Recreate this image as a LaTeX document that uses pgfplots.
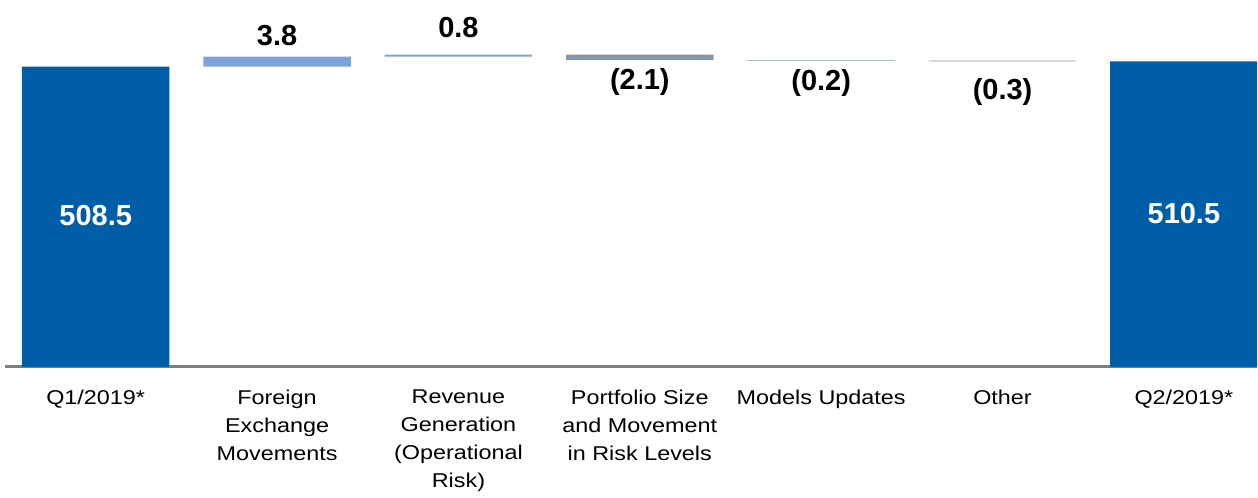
\documentclass[border=0pt]{standalone}
\usepackage{fontspec}
\setmainfont{Liberation Sans}
\newfontfamily\tickfont[FakeStretch=1.17]{Liberation Sans}
\usepackage{pgfplots}
\usepackage{pgfplotstable}
\pgfplotsset{compat=1.18}
\definecolor{qblue}{HTML}{005EA8}
\definecolor{lblue}{HTML}{7EA3D9}
\definecolor{gblue}{HTML}{8597A3}
\definecolor{axgray}{HTML}{7F7F7F}
\tikzset{vl/.style={font=\fontsize{14.5}{16}\selectfont\bfseries}}

\pgfplotstableread{
x base q up down
0 0 508.5 0 0
1 508.5 0 3.8 0
2 512.3 0 0.8 0
3 511.0 0 0 2.1
4 510.8 0 0 0.2
5 510.5 0 0 0.3
6 0 510.5 0 0
}\wf

\begin{document}
\begin{tikzpicture}
\begin{axis}[
  scale only axis, width=626.5pt, height=183.5pt,
  xmin=-0.5, xmax=6.402, ymin=393, ymax=534.15,
  enlargelimits=false,
  ybar stacked, bar width=0.813,
  axis y line=none, axis x line=bottom,
  x axis line style={axgray, line width=1.2pt, -},
  xtick={0,...,6}, ytick=\empty, major tick length=0pt,
  xticklabels={Q1/2019*, {Foreign\\Exchange\\Movements}, {Revenue\\Generation\\(Operational\\Risk)}, {Portfolio Size\\and Movement\\in Risk Levels}, Models Updates, Other, Q2/2019*},
  xticklabel style={align=center, font=\tickfont\fontsize{10}{13.9}\selectfont, yshift=-8.2pt},
]
\addplot[draw=none, fill=none] table[x=x, y=base]{\wf};
\addplot[draw=none, fill=qblue] table[x=x, y=q]{\wf};
\addplot[draw=none, fill=lblue] table[x=x, y=up]{\wf};
\addplot[draw=none, fill=gblue] table[x=x, y=down]{\wf};
\coordinate (L0) at (axis cs:0,451.0);
\coordinate (L6) at (axis cs:6,451.8);
\coordinate (L1) at (axis cs:1,520.3);
\coordinate (L2) at (axis cs:2,523.6);
\coordinate (L3) at (axis cs:3,502.5);
\coordinate (L4) at (axis cs:4,502.3);
\coordinate (L5) at (axis cs:5,498.6);
\end{axis}
\node[vl, white] at (L0) {508.5};
\node[vl, white] at (L6) {510.5};
\node[vl] at (L1) {3.8};
\node[vl] at (L2) {0.8};
\node[vl] at (L3) {(2.1)};
\node[vl] at (L4) {(0.2)};
\node[vl] at (L5) {(0.3)};
\path ([xshift=-2.5pt,yshift=-61.5pt]current axis.south west) (current axis.north east);
\end{tikzpicture}
\end{document}
